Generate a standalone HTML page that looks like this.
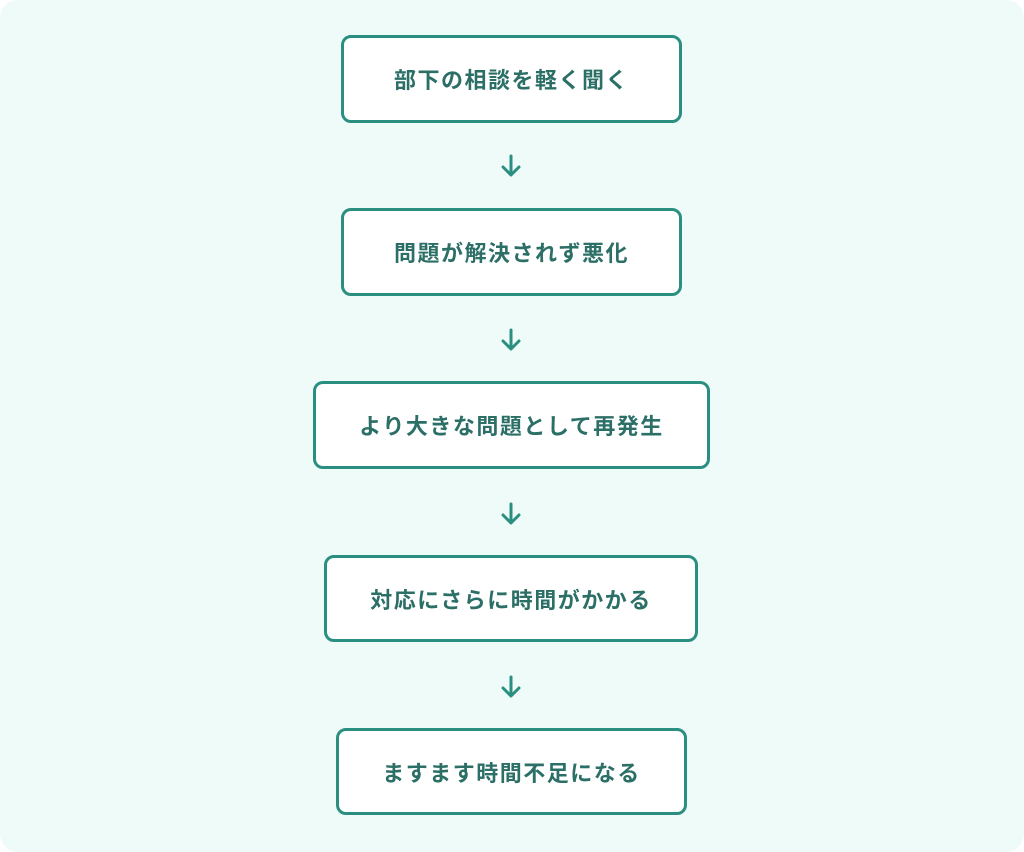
<!DOCTYPE html>
<html><head><meta charset="utf-8"><style>
html,body{margin:0;padding:0;background:#fff;}
.page{position:relative;width:1024px;height:852px;background:#effbf9;border-radius:18px;overflow:hidden;font-family:"Liberation Sans","Noto Sans CJK JP",sans-serif;}
.box{position:absolute;box-sizing:border-box;border:3px solid #2a8f80;border-radius:10px;background:#fff;display:flex;align-items:center;justify-content:center;color:#2b6f66;font-weight:bold;font-size:22px;letter-spacing:1.5px;}
svg{position:absolute;left:500px;}
</style></head><body><div class="page">
<div class="box" style="left:341px;top:35px;width:341px;height:88px">部下の相談を軽く聞く</div>
<div class="box" style="left:341px;top:208px;width:341px;height:88px">問題が解決されず悪化</div>
<div class="box" style="left:313px;top:381px;width:397px;height:88px">より大きな問題として再発生</div>
<div class="box" style="left:324px;top:555px;width:374px;height:87px">対応にさらに時間がかかる</div>
<div class="box" style="left:336px;top:728px;width:351px;height:87px">ますます時間不足になる</div>
<svg style="top:154px" width="22" height="24"><path d="M11 2V21M3 13L11 21L19 13" stroke="#2a8f80" stroke-width="3" fill="none" stroke-linecap="round" stroke-linejoin="round"/></svg>
<svg style="top:328px" width="22" height="24"><path d="M11 2V21M3 13L11 21L19 13" stroke="#2a8f80" stroke-width="3" fill="none" stroke-linecap="round" stroke-linejoin="round"/></svg>
<svg style="top:502px" width="22" height="24"><path d="M11 2V21M3 13L11 21L19 13" stroke="#2a8f80" stroke-width="3" fill="none" stroke-linecap="round" stroke-linejoin="round"/></svg>
<svg style="top:675px" width="22" height="24"><path d="M11 2V21M3 13L11 21L19 13" stroke="#2a8f80" stroke-width="3" fill="none" stroke-linecap="round" stroke-linejoin="round"/></svg>
</div></body></html>
